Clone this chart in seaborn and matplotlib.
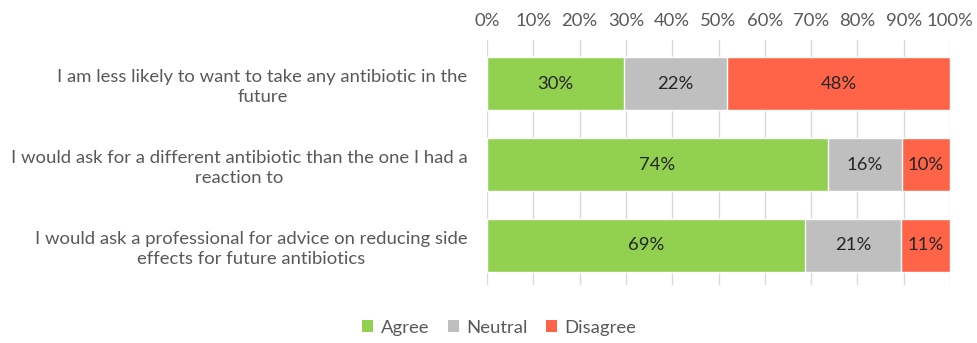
import matplotlib
matplotlib.use("Agg")
import matplotlib.pyplot as plt
import seaborn as sns
import pandas as pd
from matplotlib.patches import Patch

statements = [
    "I am less likely to want to take any antibiotic in the\nfuture",
    "I would ask for a different antibiotic than the one I had a\nreaction to",
    "I would ask a professional for advice on reducing side\neffects for future antibiotics",
]
agree = [29.6, 73.6, 68.7]
neutral = [22.2, 16.0, 20.7]
disagree = [48.2, 10.4, 10.6]
series_names = ["Agree", "Neutral", "Disagree"]
colors = ["#92D050", "#BFBFBF", "#FF6449"]
tick_values = list(range(0, 101, 10))

sns.set_theme(style="white")
plt.rcParams["font.family"] = ["Lato", "DejaVu Sans"]
FS = 13.3

df = pd.DataFrame({"statement": statements, "Agree": agree,
                   "Neutral": neutral, "Disagree": disagree})
df["cum_neutral"] = df["Agree"] + df["Neutral"]
df["cum_disagree"] = df["cum_neutral"] + df["Disagree"]

fig = plt.figure(figsize=(9.77, 3.43), dpi=100)
ax = fig.add_axes([0.4985, 0.169, 0.4739, 0.7144])

# Stack by overdrawing cumulative totals, widest first
for col, color in zip(["cum_disagree", "cum_neutral", "Agree"], colors[::-1]):
    sns.barplot(data=df, x=col, y="statement", orient="h", color=color,
                width=0.655, saturation=1, ax=ax, zorder=2)

# Segment value labels
for i in range(len(statements)):
    lefts = [0, agree[i], agree[i] + neutral[i]]
    for left, val in zip(lefts, [agree[i], neutral[i], disagree[i]]):
        ax.text(left + val / 2, i, f"{val:.0f}%", ha="center", va="center",
                fontsize=FS, color="#262626", zorder=3)

ax.set_xlim(0, 100)
ax.set_ylim(2.49, -0.54)
ax.set_xticks(tick_values)
ax.set_xticklabels([f"{v}%" for v in tick_values], fontsize=FS, color="#595959")
ax.xaxis.tick_top()
ax.tick_params(axis="x", length=0, pad=8)
ax.tick_params(axis="y", length=0, pad=14)
for lbl in ax.get_yticklabels():
    lbl.set_fontsize(FS)
    lbl.set_color("#595959")
    lbl.set_horizontalalignment("right")
    lbl.set_multialignment("center")
    lbl.set_linespacing(1.3)
ax.set_xlabel("")
ax.set_ylabel("")
ax.grid(axis="x", color="#D9D9D9", linewidth=1, zorder=0)
ax.set_axisbelow(True)
for s in ax.spines.values():
    s.set_visible(False)

handles = [Patch(facecolor=c, edgecolor="none", label=n) for n, c in zip(series_names, colors)]
leg = fig.legend(handles=handles, loc="center", bbox_to_anchor=(0.511, 0.045), ncol=3,
                 frameon=False, fontsize=FS, handlelength=0.6, handleheight=0.6,
                 handletextpad=0.4, columnspacing=1.0)
for t in leg.get_texts():
    t.set_color("#595959")

fig.savefig("out.png", dpi=100)
